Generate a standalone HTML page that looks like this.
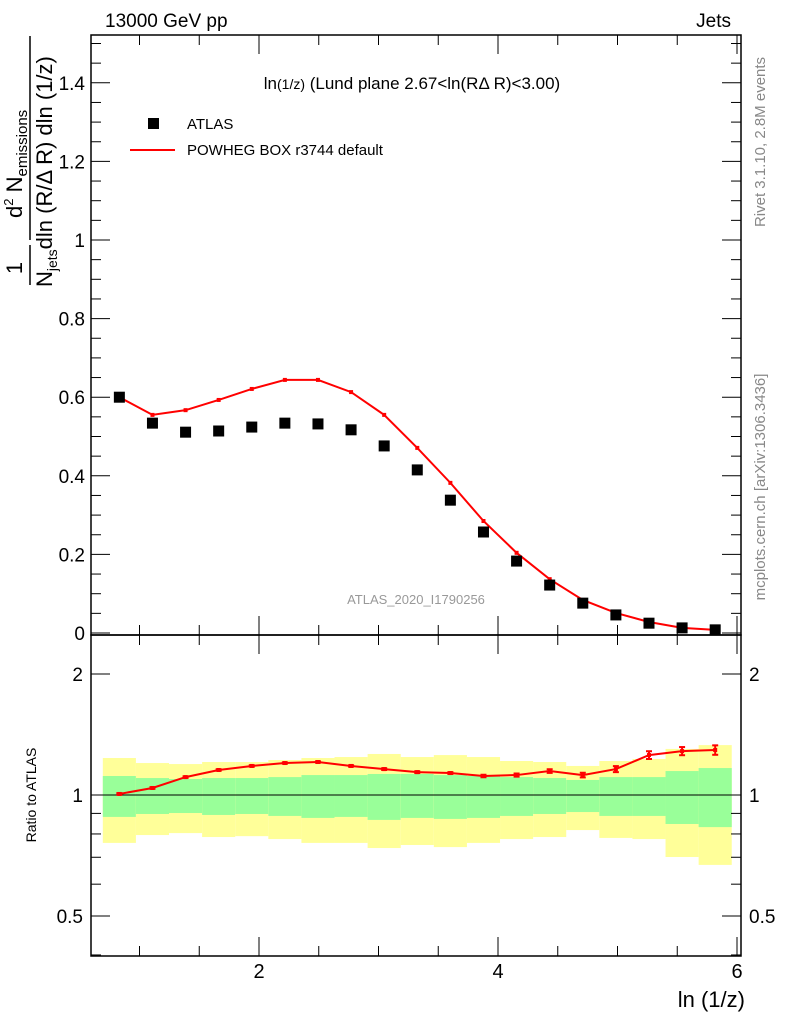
<!DOCTYPE html>
<html><head><meta charset="utf-8"><style>
html,body{margin:0;padding:0;background:#fff;}
svg{display:block;font-family:"Liberation Sans",sans-serif;}
</style></head><body>
<svg id="c" width="786" height="1024" viewBox="0 0 786 1024" xmlns="http://www.w3.org/2000/svg">
<g id="bands"></g>
<g id="frames"></g>
<g id="marks"></g>
<text x="105" y="27" font-size="19">13000 GeV pp</text>
<text x="731" y="27" font-size="19" text-anchor="end">Jets</text>
<text x="412" y="89" font-size="17" text-anchor="middle">ln<tspan font-size="14">(1/z)</tspan> (Lund plane 2.67&lt;ln(RΔ R)&lt;3.00)</text>
<rect x="148" y="118" width="11" height="11" fill="#000"/>
<text x="187" y="129" font-size="15">ATLAS</text>
<line x1="130" y1="150" x2="175" y2="150" stroke="#f00" stroke-width="2"/>
<text x="187" y="155" font-size="15">POWHEG BOX r3744 default</text>
<text x="416" y="604" font-size="13" fill="#999" text-anchor="middle">ATLAS_2020_I1790256</text>
<text transform="translate(765,142) rotate(-90)" font-size="15" fill="#888" text-anchor="middle">Rivet 3.1.10,  2.8M events</text>
<text transform="translate(765,487) rotate(-90)" font-size="15" fill="#888" text-anchor="middle">mcplots.cern.ch [arXiv:1306.3436]</text>
<g>
<text transform="translate(22,268) rotate(-90)" font-size="22" text-anchor="middle">1</text>
<line x1="30" y1="245" x2="30" y2="285" stroke="#000" stroke-width="1.5"/>
<text transform="translate(52,287) rotate(-90)" font-size="22" text-anchor="start">N<tspan font-size="14" dy="5">jets</tspan><tspan dy="-5">dln (R/Δ R) dln (1/z)</tspan></text>
<line x1="30" y1="36" x2="30" y2="240" stroke="#000" stroke-width="1.5"/>
<text transform="translate(22,218) rotate(-90)" font-size="22" text-anchor="start">d<tspan font-size="13" dy="-9">2</tspan><tspan dy="9"> N</tspan><tspan font-size="15" dy="5">emissions</tspan></text>
</g>
<text transform="translate(36,795) rotate(-90)" font-size="14" text-anchor="middle">Ratio to ATLAS</text>
<text x="745" y="1007" font-size="22" text-anchor="end">ln (1/z)</text>
</svg>
<script>
const binLow = [0.693,0.970,1.247,1.524,1.801,2.078,2.355,2.632,2.909,3.186,3.463,3.740,4.017,4.294,4.571,4.848,5.125,5.402,5.679];
const binHigh = [0.970,1.247,1.524,1.801,2.078,2.355,2.632,2.909,3.186,3.463,3.740,4.017,4.294,4.571,4.848,5.125,5.402,5.679,5.956];
const atlasVals = [0.600,0.534,0.511,0.514,0.524,0.534,0.532,0.517,0.476,0.415,0.338,0.257,0.183,0.122,0.076,0.046,0.025,0.013,0.008];
const mcVals = [0.600,0.555,0.567,0.593,0.621,0.644,0.644,0.613,0.555,0.471,0.382,0.285,0.204,0.137,0.084,0.051,0.028,0.013,0.008];
const ratioVals = [1.006,1.041,1.108,1.154,1.181,1.201,1.208,1.181,1.160,1.140,1.134,1.115,1.121,1.147,1.121,1.160,1.257,1.286,1.294];
const ratioErr = [0.005,0.005,0.005,0.005,0.005,0.005,0.005,0.005,0.006,0.006,0.006,0.008,0.010,0.012,0.015,0.020,0.028,0.030,0.035];
const yelHi = [1.236,1.201,1.194,1.208,1.208,1.222,1.236,1.243,1.265,1.243,1.257,1.243,1.215,1.208,1.181,1.215,1.229,1.302,1.331];
const grnHi = [1.115,1.102,1.096,1.102,1.102,1.108,1.121,1.121,1.128,1.128,1.121,1.115,1.108,1.102,1.090,1.108,1.108,1.147,1.167];
const grnLo = [0.882,0.897,0.902,0.892,0.897,0.887,0.877,0.882,0.867,0.877,0.872,0.877,0.887,0.897,0.907,0.887,0.887,0.847,0.832];
const yelLo = [0.760,0.795,0.804,0.786,0.790,0.777,0.760,0.760,0.738,0.751,0.742,0.760,0.777,0.786,0.818,0.782,0.777,0.701,0.670];
const mainYTicks = [0,0.2,0.4,0.6,0.8,1,1.2,1.4];
const mainYLabels = ["0","0.2","0.4","0.6","0.8","1","1.2","1.4"];
const xTicks = [2,4,6];
const ratioTicks = [0.5,1,2];

const NS="http://www.w3.org/2000/svg";
const L=91,R=741,T=35,MB=635,RB=956;
const X=v=>259+(v-2)*119.5;
const Y=v=>633-v*393;
const RY=v=>795-Math.log2(v)*121;
function el(tag,attrs,parent){const e=document.createElementNS(NS,tag);for(const k in attrs)e.setAttribute(k,attrs[k]);parent.appendChild(e);return e;}
const bands=document.getElementById('bands'),frames=document.getElementById('frames'),marks=document.getElementById('marks');

for(let i=0;i<binLow.length;i++){
  const x1=X(binLow[i]),x2=X(binHigh[i]);
  const y=el('rect',{x:x1,y:RY(yelHi[i]),width:x2-x1,height:RY(yelLo[i])-RY(yelHi[i]),fill:'#ffff99'},bands);
  
  
  const g=el('rect',{x:x1,y:RY(grnHi[i]),width:x2-x1,height:RY(grnLo[i])-RY(grnHi[i]),fill:'#99ff99'},bands);
  
  
}
el('line',{x1:L,x2:R,y1:RY(1),y2:RY(1),stroke:'#000','stroke-width':1},bands);

el('rect',{x:L,y:T,width:R-L,height:MB-T,fill:'none',stroke:'#000','stroke-width':1.5},frames);
el('rect',{x:L,y:MB,width:R-L,height:RB-MB,fill:'none',stroke:'#000','stroke-width':1.5},frames);
for(let v=0;v<=1.5001;v+=0.05){
  const maj=Math.abs(v/0.2-Math.round(v/0.2))<1e-6, len=maj?19:10, y=Y(v);
  if(y<T)continue;
  el('line',{x1:L,x2:L+len,y1:y,y2:y,stroke:'#000'},frames);
  el('line',{x1:R,x2:R-len,y1:y,y2:y,stroke:'#000'},frames);
}
mainYTicks.forEach((v,i)=>{const t=el('text',{x:L-6,y:Y(v)+7,'font-size':19,'text-anchor':'end'},frames);t.textContent=mainYLabels[i];

});
for(let v=1;v<=6.001;v+=0.5){
  const maj=Math.abs(v-Math.round(v/2)*2)<1e-6, x=X(v);
  if(x<L||x>R)continue;
  const len=maj?19:10;
  [[MB,-1],[T,1],[RB,-1],[MB,1]].forEach(([y0,d])=>el('line',{x1:x,x2:x,y1:y0,y2:y0+d*len,stroke:'#000'},frames));
}
xTicks.forEach(v=>{const t=el('text',{x:X(v),y:978,'font-size':20,'text-anchor':'middle'},frames);t.textContent=String(v);

});
[0.4,0.5,0.6,0.7,0.8,0.9,1,2].forEach(v=>{const y=RY(v);if(y>RB||y<MB)return;const maj=ratioTicks.includes(v),len=maj?19:10;
  el('line',{x1:L,x2:L+len,y1:y,y2:y,stroke:'#000'},frames);el('line',{x1:R,x2:R-len,y1:y,y2:y,stroke:'#000'},frames);});
ratioTicks.forEach(v=>{
  const t=el('text',{x:L-8,y:RY(v)+7,'font-size':19,'text-anchor':'end'},frames);t.textContent=String(v);
  
  
  const t2=el('text',{x:R+8,y:RY(v)+7,'font-size':19},frames);t2.textContent=String(v);
  
  
});

const cx=i=>X((binLow[i]+binHigh[i])/2);
const mcLine=el('polyline',{points:mcVals.map((v,i)=>cx(i)+','+Y(v)).join(' '),fill:'none',stroke:'#f00','stroke-width':2},marks);


mcVals.forEach((v,i)=>{const m=el('rect',{x:cx(i)-2,y:Y(v)-2,width:4,height:4,fill:'#f00'},marks);

});
atlasVals.forEach((v,i)=>{const m=el('rect',{x:cx(i)-5.5,y:Y(v)-5.5,width:11,height:11,fill:'#000'},marks);

});
const rLine=el('polyline',{points:ratioVals.map((v,i)=>cx(i)+','+RY(v)).join(' '),fill:'none',stroke:'#f00','stroke-width':2},marks);


ratioVals.forEach((v,i)=>{
  const x=cx(i),y1=RY(v+ratioErr[i]),y2=RY(v-ratioErr[i]);
  el('line',{x1:x,x2:x,y1:y1,y2:y2,stroke:'#f00','stroke-width':2},marks);
  el('line',{x1:x-3,x2:x+3,y1:y1,y2:y1,stroke:'#f00','stroke-width':2},marks);
  el('line',{x1:x-3,x2:x+3,y1:y2,y2:y2,stroke:'#f00','stroke-width':2},marks);
  const m=el('rect',{x:x-2,y:RY(v)-2,width:4,height:4,fill:'#f00'},marks);
  
  
});
</script>
</body></html>
